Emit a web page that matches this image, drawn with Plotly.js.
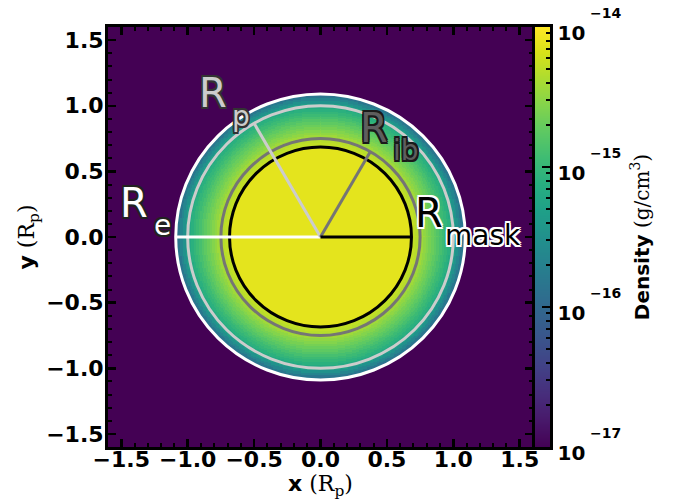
<!DOCTYPE html>
<html><head><meta charset="utf-8">
<script src="https://cdn.plot.ly/plotly-3.0.1.min.js"></script>
<style>body{margin:0;background:#fff}</style>
</head><body><div id="chart" style="width:678px;height:500px"></div>
<script>
// Boundary radii (units of R_p) and direction of each radius line (degrees)
const radiusLabels = ['e', 'p', 'ib', 'mask'];
const radiusValues = [1.09, 1.0, 0.75, 0.685];
const radiusAngles = [180, 120, 60, 0];

// Radial density profile: log10(rho / g cm^-3)
const innerLogRho = -14.12;          // r below first profile radius
const profileR = [0.68, 0.70, 0.72, 0.74, 0.76, 0.78, 0.80, 0.82, 0.84, 0.86, 0.88,
                  0.90, 0.92, 0.94, 0.96, 0.98, 1.00, 1.02, 1.04, 1.06, 1.08];
const profileLogRho = [-14.25, -14.28, -14.32, -14.37, -14.43, -14.50, -14.56, -14.62, -14.68, -14.74, -14.81,
                       -14.88, -14.95, -15.02, -15.09, -15.17, -15.30, -15.48, -15.65, -15.82, -15.97];
const backgroundLogRho = -17.3;      // outside R_e

// Colour bar
const cbarTickExp = [-17, -16, -15, -14];
const cbarTickText = ['10', '10', '10', '10'];
const cbarExpText = ['\u221217', '\u221216', '\u221215', '\u221214'];

// ---- build the density grid from the radial profile (step lookup) ----
const Re = radiusValues[0];
const xs = [], ys = [];
for (let i = 0; i <= 320; i++) { xs.push(-1.6 + i * 0.01); ys.push(-1.6 + i * 0.01); }
function lookup(r) {
  if (r > Re) return backgroundLogRho;
  if (r < profileR[0]) return innerLogRho;
  let k = 0;
  while (k + 1 < profileR.length && profileR[k + 1] <= r) k++;
  return profileLogRho[k];
}
const z = ys.map(y => xs.map(x => lookup(Math.sqrt(x * x + y * y))));

const F = 'DejaVu Sans';
const lineColors = ['#ffffff', '#cccccc', '#757575', '#000000'];

const shapes = [];
radiusValues.forEach((R, i) => {
  shapes.push({type: 'circle', xref: 'x', yref: 'y', x0: -R, x1: R, y0: -R, y1: R,
    line: {color: lineColors[i], width: 3}, layer: 'above'});
});
radiusValues.forEach((R, i) => {
  const a = radiusAngles[i] * Math.PI / 180;
  shapes.push({type: 'line', xref: 'x', yref: 'y', x0: 0, y0: 0,
    x1: R * Math.cos(a), y1: R * Math.sin(a),
    line: {color: lineColors[i], width: 3}, layer: 'above'});
});

function outline(c, w) {
  const s = [];
  for (const [dx, dy] of [[-w,-w],[w,-w],[-w,w],[w,w],[0,w],[0,-w],[w,0],[-w,0]])
    s.push(dx + 'px ' + dy + 'px 0 ' + c);
  return s.join(', ');
}
const labelFill = ['#ffffff', '#cccccc', '#5e5e5e', '#000000'];
const labelEdge = ['#222222', '#333333', '#1a1a1a', '#ffffff'];
// positions of label pieces (data coords)
const bigPos = [[-1.515, 0.256], [-0.925, 1.094], [0.292, 0.827], [0.706, 0.180]];
const subPos = [[-1.264, 0.085], [-0.677, 0.920], [0.538, 0.657], [0.930, 0.009]];
const annotations = [];
radiusLabels.forEach((lab, i) => {
  annotations.push({xref: 'x', yref: 'y', x: bigPos[i][0], y: bigPos[i][1], text: 'R',
    showarrow: false, xanchor: 'left', yanchor: 'middle', borderpad: 0,
    font: {family: F, size: 40, color: labelFill[i], shadow: outline(labelEdge[i], 1.6)}});
  annotations.push({xref: 'x', yref: 'y', x: subPos[i][0], y: subPos[i][1], text: lab,
    showarrow: false, xanchor: 'left', yanchor: 'middle', borderpad: 0,
    font: {family: F, size: 28, color: labelFill[i], shadow: outline(labelEdge[i], 1.6)}});
});
cbarTickExp.forEach((e, i) => {
  annotations.push({xref: 'paper', yref: 'y2', x: 1.081, y: e, yshift: 14, text: cbarExpText[i],
    showarrow: false, xanchor: 'left', yanchor: 'middle',
    font: {family: F, size: 14, weight: 'bold', color: '#000'}});
});

const tickFont = {family: F, size: 22, weight: 'bold', color: '#000'};
const axBase = {
  range: [-1.6, 1.6], dtick: 0.5, tick0: 0, tickformat: '.1f',
  ticks: 'inside', ticklen: 8, tickwidth: 2.5, tickcolor: '#000',
  showline: true, linewidth: 3, linecolor: '#000', mirror: 'ticks',
  minor: {ticks: 'inside', dtick: 0.1, ticklen: 4, tickwidth: 2, tickcolor: '#000'},
  zeroline: false, showgrid: false, tickfont: tickFont, fixedrange: true
};

const minorVals = [];
for (let e = -17; e < -14; e++) for (let k = 2; k <= 9; k++) minorVals.push(k * Math.pow(10, e));

const data = [
  {type: 'heatmap', x: xs, y: ys, z: z, colorscale: 'Viridis', zmin: -17, zmax: -14,
   showscale: false, hoverinfo: 'skip', xaxis: 'x', yaxis: 'y'},
  {type: 'heatmap', x: [0, 1], y: [Math.pow(10, -17), Math.pow(10, -14)],
   z: [[-17, -17], [-14, -14]], zsmooth: 'best', colorscale: 'Viridis', zmin: -17, zmax: -14,
   showscale: false, hoverinfo: 'skip', xaxis: 'x2', yaxis: 'y2'}
];

const layout = {
  width: 678, height: 500,
  margin: {l: 108, r: 126, t: 27, b: 53},
  paper_bgcolor: '#fff', plot_bgcolor: '#fff', showlegend: false,
  xaxis: Object.assign({}, axBase, {domain: [0, 0.9572], anchor: 'y', ticklabelstandoff: -9,
    title: {text: '<b>x</b> <span style="font-family:DejaVu Serif">(R<sub>p</sub>)</span>',
      font: {family: F, size: 22, color: '#000'}, standoff: 16}}),
  yaxis: Object.assign({}, axBase, {domain: [0, 1], anchor: 'x', ticklabelstandoff: -3,
    title: {text: '<b>y</b> <span style="font-family:DejaVu Serif">(R<sub>p</sub>)</span>',
      font: {family: F, size: 22, color: '#000'}, standoff: 6}}),
  xaxis2: {domain: [0.9606, 0.9966], anchor: 'y2', range: [0, 1], showline: true, mirror: true,
    linewidth: 3, linecolor: '#000', ticks: '', showticklabels: false, showgrid: false,
    zeroline: false, fixedrange: true},
  yaxis2: {domain: [0, 1], anchor: 'x2', type: 'log', range: [-17, -14], side: 'right',
    showline: true, mirror: true, linewidth: 3, linecolor: '#000',
    ticks: 'inside', ticklen: 8, tickwidth: 2.5, tickcolor: '#000',
    tickmode: 'array', tickvals: cbarTickExp.map(e => Math.pow(10, e)), ticktext: cbarTickText,
    ticklabelshift: 6,
    minor: {ticks: 'inside', ticklen: 4, tickwidth: 2, tickcolor: '#000', tickmode: 'array', tickvals: minorVals},
    tickfont: {family: F, size: 20, weight: 'bold', color: '#000'},
    showgrid: false, zeroline: false, fixedrange: true,
    title: {text: '<b>Density</b> <span style="font-family:DejaVu Serif">(g/cm<sup>3</sup>)</span>',
      font: {family: F, size: 20, color: '#000'}, standoff: 51}},
  shapes: shapes,
  annotations: annotations
};

Plotly.newPlot('chart', data, layout, {displayModeBar: false, staticPlot: true});
</script>
</body></html>
